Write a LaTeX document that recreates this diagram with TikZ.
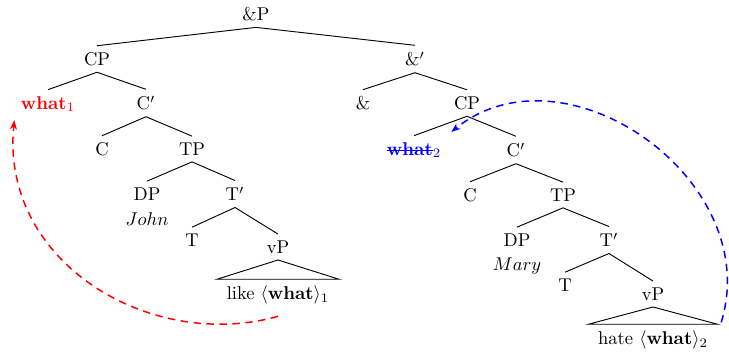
\documentclass[tikz,border=0pt]{standalone}
\usetikzlibrary{arrows.meta}
\newcommand{\struck}[1]{\sbox0{#1}\rlap{\rule[0.55ex]{\wd0}{0.6pt}}\usebox0}
\tikzset{
  cat/.style={inner sep=3.33pt},
  roofed/.style={inner xsep=5pt},
  branch/.style={draw=black, line width=0.5pt},
  movearrow/.style={dash pattern=on 4pt off 3pt, thick, -{Stealth[length=5pt]}},
}
\begin{document}
\begin{tikzpicture}[x=0.54pt,y=-0.54pt]
\useasboundingbox (0,0) rectangle (729,353);
% left conjunct
\node[cat] (andP) at (256,14) {\&P};
\node[cat] (cpL) at (97,59) {CP};
\node[cat, text=red] (whatL) at (48,104) {\textbf{what}$_1$};
\node[cat] (cbarL) at (146,103) {C$'$};
\node[cat] (cL) at (102,149) {C};
\node[cat] (tpL) at (192,149) {TP};
\node[cat] (dpL) at (147,194) {DP};
\node[cat] (johnL) at (147,219) {$John$};
\node[cat] (tbarL) at (235,194) {T$'$};
\node[cat] (tL) at (192,240) {T};
\node[cat] (vpL) at (278,247) {vP};
\node[cat, roofed] (likeL) at (278,295) {like $\langle$\textbf{what}$\rangle_1$};
% right conjunct
\node[cat] (andbar) at (415,59) {\&$'$};
\node[cat] (amp) at (363,103) {\&};
\node[cat] (cpR) at (467,103) {CP};
\node[cat, text=blue] (whatR) at (414,150) {\struck{\textbf{what}}$_2$};
\node[cat] (cbarR) at (516,150) {C$'$};
\node[cat] (cR) at (470,195) {C};
\node[cat] (tpR) at (563,195) {TP};
\node[cat] (dpR) at (517,240) {DP};
\node[cat] (maryR) at (517,266) {$Mary$};
\node[cat] (tbarR) at (609,240) {T$'$};
\node[cat] (tR) at (565,285) {T};
\node[cat] (vpR) at (653,294) {vP};
\node[cat, roofed] (hateR) at (653,340) {hate $\langle$\textbf{what}$\rangle_2$};
% branches
\foreach \p/\c in {andP/cpL, andP/andbar, cpL/whatL, cpL/cbarL, cbarL/cL, cbarL/tpL,
                   tpL/dpL, tpL/tbarL, tbarL/tL, tbarL/vpL,
                   andbar/amp, andbar/cpR, cpR/whatR, cpR/cbarR, cbarR/cR, cbarR/tpR,
                   tpR/dpR, tpR/tbarR, tbarR/tR, tbarR/vpR}
  \draw[branch] (\p.south) -- (\c.north);
% roofs
\draw[branch] (vpL.south) -- (likeL.north west) -- (likeL.north east) -- cycle;
\draw[branch] (vpR.south) -- (hateR.north west) -- (hateR.north east) -- cycle;
% movement
\draw[movearrow, red] ([yshift=-3pt]likeL.south) .. controls (150,352) and (0,262) .. ([yshift=-1pt]whatL.south west);
\draw[movearrow, blue] ([xshift=2pt,yshift=1pt]hateR.north east) .. controls (765,180) and (565,40) .. ([xshift=2pt,yshift=2pt]whatR.north east);
\end{tikzpicture}
\end{document}
